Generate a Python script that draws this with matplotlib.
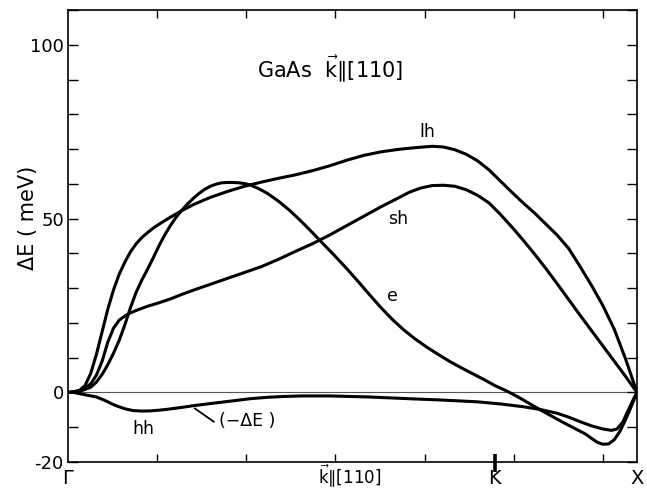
import matplotlib
matplotlib.use("Agg")
import matplotlib.pyplot as plt
import matplotlib.transforms as mtransforms

# ---- data (x: fraction of path Gamma -> X along [110], y: Delta E in meV) ----
lh_x = [0, 0.01, 0.02, 0.03, 0.04, 0.05, 0.06, 0.07, 0.08, 0.09, 0.10, 0.11, 0.12, 0.13,
        0.14, 0.15, 0.16, 0.18, 0.20, 0.22, 0.25, 0.28, 0.31, 0.34, 0.37, 0.40, 0.43,
        0.46, 0.49, 0.52, 0.55, 0.58, 0.61, 0.64, 0.66, 0.68, 0.70, 0.72, 0.74, 0.76,
        0.78, 0.80, 0.82, 0.84, 0.86, 0.88, 0.90, 0.92, 0.94, 0.96, 0.98, 0.99, 1.0]
lh_y = [0, 0.1, 0.6, 2.0, 5.5, 11, 17.5, 24, 29.5, 34, 37.5, 40.5, 42.8, 44.6,
        46.0, 47.3, 48.4, 50.4, 52.3, 54.0, 56.1, 57.8, 59.3, 60.5, 61.6, 62.6, 63.8,
        65.2, 66.8, 68.2, 69.2, 69.9, 70.4, 70.8, 70.6, 69.8, 68.5, 66.6, 64.0, 60.8,
        57.6, 54.5, 51.6, 48.4, 45.2, 41.4, 36.2, 30.8, 25.0, 18.2, 9.6, 4.8, 0]

e_x = [0, 0.02, 0.04, 0.05, 0.06, 0.07, 0.08, 0.09, 0.10, 0.11, 0.12, 0.13, 0.14, 0.15,
       0.16, 0.17, 0.18, 0.19, 0.20, 0.21, 0.22, 0.23, 0.24, 0.25, 0.26, 0.27, 0.28,
       0.29, 0.30, 0.31, 0.32, 0.33, 0.34, 0.35, 0.37, 0.39, 0.41, 0.43, 0.45, 0.47,
       0.49, 0.51, 0.53, 0.55, 0.57, 0.59, 0.61, 0.63, 0.65, 0.67, 0.69, 0.71, 0.73,
       0.75, 0.77, 0.79, 0.81, 0.83, 0.85, 0.87, 0.89, 0.91, 0.92, 0.93, 0.94, 0.95,
       0.96, 0.97, 0.98, 0.99, 1.0]
e_y = [0, 0.3, 1.5, 3.0, 5.2, 8.0, 11.3, 15.0, 19.5, 24.5, 28.9, 32.4, 35.5, 38.8,
       42.2, 45.3, 48.0, 50.4, 52.4, 54.2, 55.8, 57.2, 58.4, 59.3, 59.9, 60.3, 60.4,
       60.4, 60.3, 60.1, 59.7, 59.0, 58.2, 57.3, 55.0, 52.3, 49.2, 45.9, 42.5, 39.1,
       35.6, 31.9, 28.1, 24.4, 21.0, 18.0, 15.4, 13.1, 11.0, 9.0, 7.2, 5.5, 3.8,
       2.0, 0.5, -1.2, -3.1, -5.0, -6.8, -8.6, -10.3, -12.0, -13.2, -14.3, -14.9, -14.8,
       -13.6, -11.2, -7.8, -4.0, 0]

sh_x = [0, 0.02, 0.03, 0.04, 0.05, 0.06, 0.07, 0.08, 0.09, 0.10, 0.11, 0.12, 0.14, 0.16,
        0.18, 0.20, 0.22, 0.25, 0.28, 0.31, 0.34, 0.37, 0.40, 0.43, 0.46, 0.49, 0.52,
        0.55, 0.58, 0.60, 0.62, 0.64, 0.66, 0.68, 0.70, 0.72, 0.74, 0.76, 0.78, 0.80,
        0.82, 0.84, 0.86, 0.88, 0.90, 0.92, 0.94, 0.96, 0.98, 1.0]
sh_y = [0, 0.5, 1.2, 2.5, 5.0, 9.0, 14.5, 18.5, 20.8, 22.0, 22.9, 23.6, 24.8, 25.8,
        26.9, 28.2, 29.4, 31.1, 32.8, 34.5, 36.2, 38.3, 40.6, 42.8, 45.3, 48.0, 50.7,
        53.4, 55.9, 57.6, 58.8, 59.5, 59.6, 59.3, 58.3, 56.7, 54.5, 51.2, 47.6, 43.8,
        39.8, 35.6, 31.2, 26.7, 22.2, 17.8, 13.4, 9.0, 4.6, 0]

hh_x = [0, 0.01, 0.025, 0.05, 0.065, 0.076, 0.086, 0.10, 0.114, 0.13, 0.144, 0.16,
        0.174, 0.20, 0.22, 0.25, 0.29, 0.32, 0.35, 0.38, 0.41, 0.46, 0.53, 0.60, 0.66,
        0.72, 0.76, 0.80, 0.83, 0.86, 0.88, 0.90, 0.92, 0.94, 0.955, 0.965, 0.975,
        0.985, 0.995, 1.0]
hh_y = [0, 0.0, -0.5, -1.3, -2.3, -3.2, -3.9, -4.7, -5.2, -5.35, -5.3, -5.1,
        -4.85, -4.3, -3.8, -3.2, -2.4, -1.8, -1.4, -1.15, -1.0, -1.0, -1.3, -1.8, -2.2,
        -2.7, -3.3, -4.1, -4.9, -6.0, -7.1, -8.4, -9.6, -10.5, -10.9, -10.5, -8.5,
        -5.0, -1.5, 0]

xtick_pos = [0.0, 0.75, 1.0]
xtick_labels = ["Γ", "K", "X"]
k_label_pos = 0.495
minor_x = [0.1567, 0.3134, 0.4701, 0.6268, 0.75, 0.7835, 0.9402]
K_POS = 0.75
ymajor = [-20, 0, 50, 100]
yminor = list(range(-20, 111, 10))

plt.rcParams['font.family'] = ['DejaVu Sans']
plt.rcParams['mathtext.fontset'] = 'dejavusans'

fig = plt.figure(figsize=(6.47, 4.88), dpi=100)
ax = fig.add_axes([68/647, 1-462/488, (637-68)/647, (462-10)/488])

lw = 2.2
for xs, ys in [(lh_x, lh_y), (e_x, e_y), (sh_x, sh_y), (hh_x, hh_y)]:
    ax.plot(xs, ys, color="black", lw=lw, solid_capstyle="round", solid_joinstyle="round")

ax.axhline(0, color="#555555", lw=0.8, zorder=0)

ax.set_xlim(0, 1)
ax.set_ylim(-20, 110)

for s in ax.spines.values():
    s.set_linewidth(1.2)

ax.set_yticks(ymajor)
ax.set_yticklabels([str(v) for v in ymajor])
ax.set_yticks(yminor, minor=True)
ax.tick_params(axis="y", which="both", direction="in", length=7, width=1,
               left=True, right=True, labelsize=13, pad=3)

ax.set_xticks(xtick_pos)
ax.set_xticklabels(xtick_labels)
ax.set_xticks(minor_x, minor=True)
ax.tick_params(axis="x", which="major", length=0, labelsize=14, pad=5)
ax.tick_params(axis="x", which="minor", direction="in", length=6, width=1,
               top=True, bottom=True)

trans = mtransforms.blended_transform_factory(ax.transData, ax.transAxes)
ax.text(k_label_pos, -0.0465, r"$\vec{\mathrm{k}}$∥[110]", transform=trans,
        fontsize=12, ha="center", va="baseline")

# K tick crossing the bottom axis
ax.plot([K_POS, K_POS], [-0.022, 0.018], transform=trans, color="black",
        lw=2.6, clip_on=False, solid_capstyle="butt")

ax.set_ylabel("ΔE ( meV)", fontsize=15)
ax.yaxis.set_label_coords(-0.052, 0.54)

ax.text(0.46, 93, r"GaAs  $\vec{\mathrm{k}}$∥[110]", fontsize=15, ha="center", va="center")
ax.text(0.631, 75, "lh", fontsize=12.5, ha="center", va="center")
ax.text(0.58, 50, "sh", fontsize=12.5, ha="center", va="center")
ax.text(0.571, 27.6, "e", fontsize=12.5, ha="center", va="center")
ax.text(0.132, -10.5, "hh", fontsize=12.5, ha="center", va="center")
ax.text(0.315, -8.3, "(−ΔE )", fontsize=12.5, ha="center", va="center")
ax.plot([0.223, 0.256], [-4.6, -8.4], color="black", lw=1.3)

fig.savefig("out.png", dpi=100)
